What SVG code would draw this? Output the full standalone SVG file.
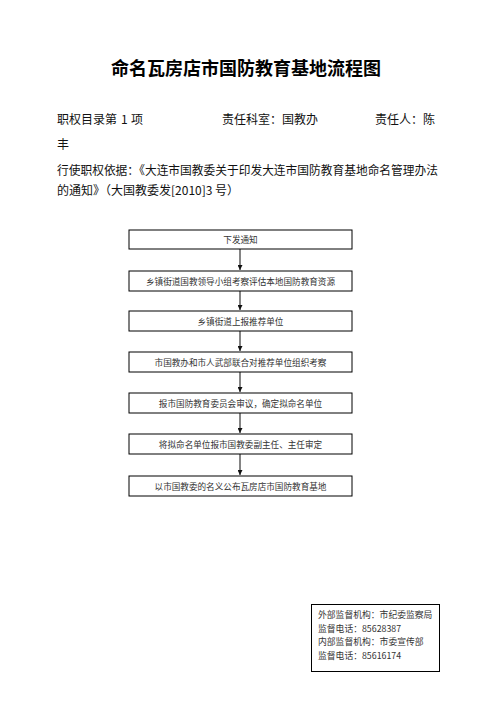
<svg xmlns="http://www.w3.org/2000/svg" width="496" height="702" viewBox="0 0 496 702">
<style>
.t{font-family:"Noto Sans CJK SC","Liberation Sans",sans-serif;fill:#111}
.title{font-size:18px;font-weight:bold;fill:#000}
.h{font-size:12px}
.bx{fill:#fff;stroke:#000;stroke-width:1}
.bt{font-family:"Noto Sans CJK SC",sans-serif;font-size:8.6px;fill:#333;text-anchor:middle}
.nt{font-family:"Noto Sans CJK SC",sans-serif;font-size:8.8px;fill:#333}
.c{stroke:#777;stroke-width:1.8;fill:none}
</style>
<defs>
<marker id="ah" viewBox="0 0 10 10" refX="10" refY="5" markerWidth="5" markerHeight="5" markerUnits="userSpaceOnUse" orient="auto">
<path d="M0,0 L10,5 L0,10 z" fill="#111"/>
</marker>
</defs>
<rect width="496" height="702" fill="#fff"/>
<g id="header">
<text class="t title" x="246" y="75" text-anchor="middle">命名瓦房店市国防教育基地流程图</text>
<text class="t h" y="124"><tspan x="57">职权目录第</tspan><tspan x="121">1</tspan><tspan x="131">项</tspan></text>
<text class="t h" x="222" y="124">责任科室：国教办</text>
<text class="t h" x="375" y="124">责任人：陈</text>
<text class="t h" x="57" y="149">丰</text>
<text class="t h" x="57" y="175" textLength="381" lengthAdjust="spacingAndGlyphs">行使职权依据：《大连市国教委关于印发大连市国防教育基地命名管理办法</text>
<text class="t h" x="57" y="195">的通知》（大国教委发[2010]3 号）</text>
</g>
<g id="connectors">
<line class="c" x1="240" y1="249" x2="240" y2="270" marker-end="url(#ah)"/>
<line class="c" x1="240" y1="291" x2="240" y2="310" marker-end="url(#ah)"/>
<line class="c" x1="240" y1="331" x2="240" y2="351" marker-end="url(#ah)"/>
<line class="c" x1="240" y1="372" x2="240" y2="392" marker-end="url(#ah)"/>
<line class="c" x1="240" y1="413" x2="240" y2="433" marker-end="url(#ah)"/>
<line class="c" x1="240" y1="454" x2="240" y2="475" marker-end="url(#ah)"/>
</g>
<g id="n1"><rect class="bx" x="129" y="230" width="223" height="19"/><text class="bt" x="240.5" y="243">下发通知</text></g>
<g id="n2"><rect class="bx" x="129" y="271" width="223" height="20"/><text class="bt" x="240.5" y="284.5">乡镇街道国教领导小组考察评估本地国防教育资源</text></g>
<g id="n3"><rect class="bx" x="129" y="311" width="223" height="20"/><text class="bt" x="240.5" y="324.5">乡镇街道上报推荐单位</text></g>
<g id="n4"><rect class="bx" x="129" y="352" width="223" height="20"/><text class="bt" x="240.5" y="365.5">市国教办和市人武部联合对推荐单位组织考察</text></g>
<g id="n5"><rect class="bx" x="129" y="393" width="223" height="20"/><text class="bt" x="240.5" y="406.5">报市国防教育委员会审议，确定拟命名单位</text></g>
<g id="n6"><rect class="bx" x="129" y="434" width="223" height="20"/><text class="bt" x="240.5" y="447.5">将拟命名单位报市国教委副主任、主任审定</text></g>
<g id="n7"><rect class="bx" x="129" y="476" width="223" height="20"/><text class="bt" x="240.5" y="489.5">以市国教委的名义公布瓦房店市国防教育基地</text></g>
<g id="note">
<rect class="bx" x="311.5" y="604.5" width="128" height="67"/>
<text class="nt" x="318" y="618">外部监督机构：市纪委监察局</text>
<text class="nt" x="318" y="632">监督电话：85628387</text>
<text class="nt" x="318" y="645">内部监督机构：市委宣传部</text>
<text class="nt" x="318" y="659">监督电话：85616174</text>
</g>
</svg>
